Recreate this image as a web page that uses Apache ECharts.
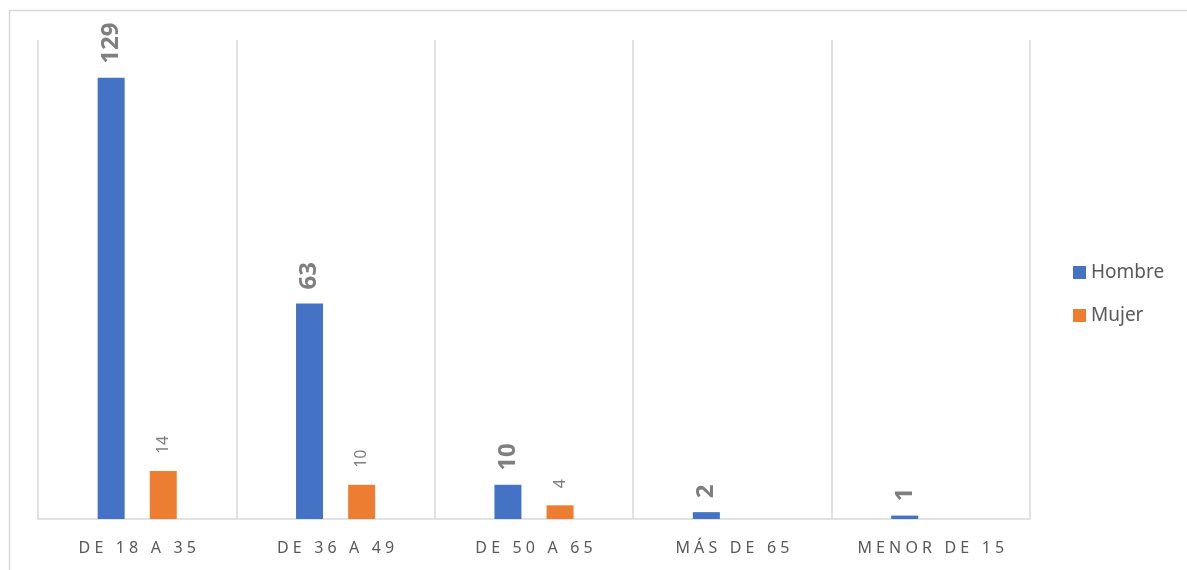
<!DOCTYPE html>
<html>
<head>
<meta charset="utf-8">
<script src="https://cdn.jsdelivr.net/npm/echarts@6/dist/echarts.min.js"></script>
<style>
html,body{margin:0;padding:0;background:#fff;}
#c{width:1187px;height:570px;}
</style>
</head>
<body>
<div id="c"></div>
<script>
const categories = ['DE 18 A 35', 'DE 36 A 49', 'DE 50 A 65', 'MÁS DE 65', 'MENOR DE 15'];
const hombre = [129, 63, 10, 2, 1];
const mujer = [14, 10, 4, null, null];
const seriesNames = ['Hombre', 'Mujer'];

const chart = echarts.init(document.getElementById('c'));
const FONT = 'Noto Sans';
chart.setOption({
  animation: false,
  textStyle: { fontFamily: FONT },
  graphic: [{
    type: 'polyline',
    shape: { points: [[9.5, 600], [9.5, 10.5], [1200, 10.5]] },
    style: { stroke: '#d9d9d9', lineWidth: 1.5, fill: null },
    silent: true
  }],
  legend: {
    orient: 'vertical',
    left: 1068,
    top: 258,
    itemWidth: 13,
    itemHeight: 13,
    itemGap: 24,
    icon: 'rect',
    textStyle: { color: '#595959', fontSize: 19, fontFamily: FONT },
    data: seriesNames
  },
  grid: { left: 38, right: 157, top: 40, bottom: 51, containLabel: false },
  xAxis: {
    type: 'category',
    data: categories,
    axisLine: { lineStyle: { color: '#d9d9d9', width: 1.5 } },
    axisTick: { show: false },
    splitLine: { show: true, lineStyle: { color: '#d9d9d9', width: 1.5 } },
    axisLabel: {
      color: '#595959',
      fontSize: 16,
      margin: 21,
      formatter: v => v.split('').join(' ')
    }
  },
  yAxis: {
    type: 'value',
    min: 0,
    max: 140,
    show: false,
    splitLine: { show: false }
  },
  series: [{
    name: seriesNames[0],
    type: 'bar',
    data: hombre,
    barWidth: 27,
    barGap: '93%',
    itemStyle: { color: '#4472c4' },
    label: {
      show: true,
      position: 'top',
      rotate: 90,
      align: 'left',
      verticalAlign: 'middle',
      distance: 14,
      color: '#7f7f7f',
      fontSize: 24,
      fontWeight: 'bold'
    }
  }, {
    name: seriesNames[1],
    type: 'bar',
    data: mujer,
    barWidth: 27,
    itemStyle: { color: '#ed7d31' },
    label: {
      show: true,
      position: 'top',
      rotate: 90,
      align: 'left',
      verticalAlign: 'middle',
      distance: 17,
      color: '#7f7f7f',
      fontSize: 16
    }
  }]
});
</script>
</body>
</html>
